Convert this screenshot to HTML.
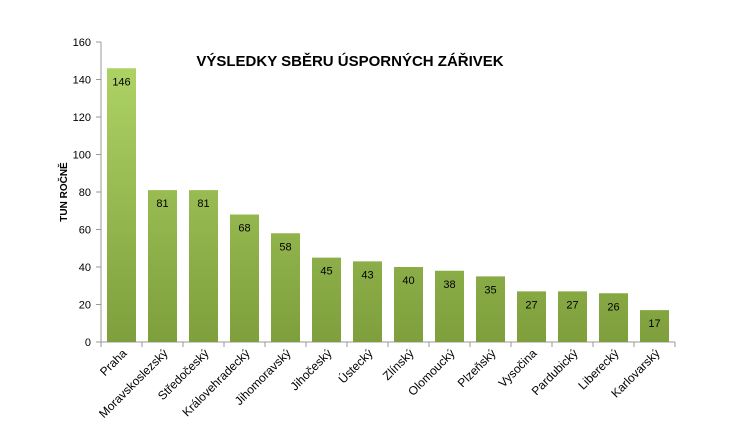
<!DOCTYPE html>
<html><head><meta charset="utf-8"><style>
body{margin:0;background:#fff;}
svg{display:block;font-family:"Liberation Sans",sans-serif;}
</style></head><body>
<svg width="730" height="437">
<defs><linearGradient id="g" gradientUnits="userSpaceOnUse" x1="0" y1="42" x2="0" y2="342">
<stop offset="0" stop-color="#b2d768"/><stop offset="1" stop-color="#7e9f3c"/></linearGradient></defs>
<text x="350" y="66" text-anchor="middle" font-size="15" font-weight="bold">VÝSLEDKY SBĚRU ÚSPORNÝCH ZÁŘIVEK</text>
<text transform="translate(67,192) rotate(-90)" text-anchor="middle" font-size="10" font-weight="bold">TUN ROČNĚ</text>
<g id="axes"></g><g id="bars"></g>
</svg>
<script>
const categories=["Praha","Moravskoslezský","Středočeský","Královehradecký","Jihomoravský","Jihočeský","Ústecký","Zlínský","Olomoucký","Plzeňský","Vysočina","Pardubický","Liberecký","Karlovarský"];
const values=[146,81,81,68,58,45,43,40,38,35,27,27,26,17];
const yTicks=[0,20,40,60,80,100,120,140,160];
const NS="http://www.w3.org/2000/svg";
const x0=101,pitch=41,y0=342,yTop=42,yMax=160;
const y=v=>y0-(v/yMax)*(y0-yTop);
const xc=i=>x0+pitch*(i+0.5);
function mk(t,a,p){const e=document.createElementNS(NS,t);for(const k in a)e.setAttribute(k,a[k]);p.appendChild(e);return e;}
const ax=document.getElementById('axes'),bg=document.getElementById('bars');
const yl=mk('line',{x1:x0,y1:yTop,x2:x0,y2:y0,stroke:'#999'},ax);


const xl=mk('line',{x1:x0-4,y1:y0,x2:x0+pitch*categories.length,y2:y0,stroke:'#999'},ax);


yTicks.forEach(v=>{
  mk('line',{x1:x0-5,y1:y(v),x2:x0,y2:y(v),stroke:'#999'},ax);
  const t=mk('text',{x:x0-10,y:y(v)+4,'text-anchor':'end','font-size':11},ax);
  t.textContent=v;
  
  
});
for(let i=0;i<=categories.length;i++)mk('line',{x1:x0+pitch*i,y1:y0,x2:x0+pitch*i,y2:y0+5,stroke:'#999'},ax);
values.forEach((v,i)=>{
  const r=mk('rect',{x:xc(i)-14.5,y:y(v),width:29,height:y0-y(v),fill:'url(#g)'},bg);
  
  
  const t=mk('text',{x:xc(i),y:y(v)+17,'text-anchor':'middle','font-size':11},bg);
  t.textContent=v;
  
  
  const c=mk('text',{transform:`translate(${xc(i)+6},${y0+12}) rotate(-45)`,'text-anchor':'end','font-size':12},bg);
  c.textContent=categories[i];
  
  
});
</script>
</body></html>
